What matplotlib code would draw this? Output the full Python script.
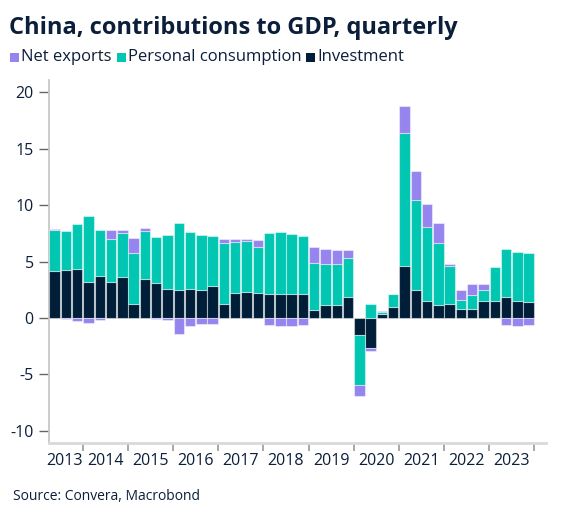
import matplotlib.pyplot as plt
import matplotlib.patches as patches
import numpy as np

plt.rcParams['font.family'] = ['Open Sans', 'DejaVu Sans']
plt.rcParams['axes.unicode_minus'] = False

# quarterly contributions, 2013Q2 .. 2023Q4
start_year = 2013.25
investment = [4.2, 4.24, 4.3, 3.17, 3.67, 3.2, 3.64, 1.19, 3.44, 3.05,
              2.58, 2.43, 2.52, 2.46, 2.84, 1.27, 2.25, 2.28, 2.19, 2.13,
              2.16, 2.13, 2.16, 0.71, 1.16, 1.16, 1.84, -1.48, -2.67, 0.3,
              0.92, 4.59, 2.49, 1.54, 1.1, 1.27, 0.77, 0.77, 1.48, 1.54,
              1.84, 1.51, 1.45]
consumption = [3.6, 3.43, 4.03, 5.87, 4.13, 3.82, 3.92, 4.59, 4.26, 4.15,
               4.74, 5.96, 5.09, 4.86, 4.39, 5.4, 4.45, 4.53, 4.09, 5.4,
               5.43, 5.34, 5.11, 4.15, 3.64, 3.64, 3.49, -4.44, 1.21, 0.23,
               1.21, 11.85, 8.0, 6.55, 5.54, 3.32, 0.8, 1.24, 0.98, 2.99,
               4.23, 4.36, 4.3]
net_exports = [0.05, -0.1, -0.3, -0.44, -0.2, 0.78, 0.24, 1.33, 0.3, -0.1,
               -0.2, -1.45, -0.74, -0.56, -0.5, 0.3, 0.27, 0.15, 0.59, -0.65,
               -0.74, -0.68, -0.6, 1.45, 1.27, 1.19, 0.65, -0.98, -0.3, 0.06,
               0.0, 2.31, 2.52, 1.98, 1.75, 0.18, 0.92, 0.95, 0.5, -0.05,
               -0.65, -0.71, -0.62]
years = list(range(2013, 2024))

navy = '#0b1f3a'
series = [('Investment', investment, '#001e38'),
          ('Personal consumption', consumption, '#00c6b2'),
          ('Net exports', net_exports, '#9785ef')]

fig = plt.figure(figsize=(5.66, 5.21), dpi=100)
ax = fig.add_axes([49/566, 1-443/521, (546-49)/566, (443-80)/521])

n = len(investment)
x = start_year + 0.125 + 0.25*np.arange(n)
pos_base = np.zeros(n)
neg_base = np.zeros(n)
for name, vals, col in series:
    v = np.array(vals)
    base = np.where(v >= 0, pos_base, neg_base)
    ax.bar(x, v, width=0.23, bottom=base, color=col,
           edgecolor=(1, 1, 1, 0.45), linewidth=0.8, zorder=3)
    pos_base = pos_base + np.where(v >= 0, v, 0)
    neg_base = neg_base + np.where(v < 0, v, 0)

ax.set_xlim(start_year, 2024.26)
ax.set_ylim(-11.1, 21.1)
ax.set_yticks([-10, -5, 0, 5, 10, 15, 20])
ax.set_xticks(np.arange(2014, 2025))
ax.set_xticklabels([])
mids = [2013.6] + [y + 0.5 for y in years[1:]]
ax.set_xticks(mids, minor=True)
ax.set_xticklabels([str(y) for y in years], minor=True)
ax.tick_params(axis='x', which='major', length=6, width=1.2, color='#999999')
ax.tick_params(axis='x', which='minor', length=0, pad=7, labelsize=11.5, labelcolor=navy)
ax.tick_params(axis='y', length=7, width=1, color='#666666', labelsize=11.5,
               labelcolor=navy, pad=4)
for s in ['top', 'right']:
    ax.spines[s].set_visible(False)
ax.spines['left'].set_color('#c8c8c8')
ax.spines['left'].set_linewidth(1.3)
ax.spines['bottom'].set_color('#d9d9d9')
ax.spines['bottom'].set_linewidth(2)

fig.text(9/566, 1-28/521, 'China, contributions to GDP, quarterly',
         fontsize=17, fontweight='bold', color=navy, va='center', ha='left')

# legend row
lx = 10
for name, col in [('Net exports', '#9785ef'),
                  ('Personal consumption', '#00c6b2'),
                  ('Investment', '#001e38')]:
    fig.patches.append(patches.Rectangle((lx/566, 1-62/521), 9/566, 9/521,
                                         transform=fig.transFigure,
                                         facecolor=col, edgecolor='none'))
    t = fig.text((lx+11)/566, 1-57/521, name, fontsize=12, color=navy,
                 va='center', ha='left')
    fig.canvas.draw()
    bb = t.get_window_extent()
    lx = bb.x1 + 5

fig.text(13/566, 1-497/521, 'Source: Convera, Macrobond', fontsize=10,
         color=navy, va='center', ha='left')

fig.savefig('out.png', dpi=100)
